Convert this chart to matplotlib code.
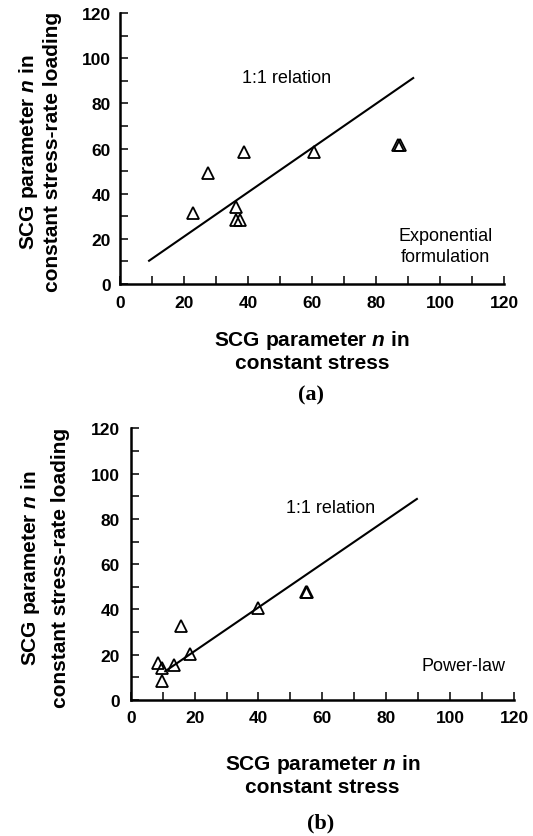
import numpy as np
import matplotlib
matplotlib.use("Agg")
import matplotlib.pyplot as plt

plt.rcParams['font.family'] = ['Liberation Sans', 'DejaVu Sans']
plt.rcParams['mathtext.fontset'] = 'custom'
plt.rcParams['mathtext.it'] = 'Liberation Sans:italic:bold'

# (a) exponential formulation
exp_const_stress = [22.8, 27.3, 38.6, 36.1, 36.1, 37.4, 60.7, 87.0, 87.6]
exp_stress_rate = [31.3, 49.3, 58.4, 34.2, 28.3, 28.3, 58.3, 61.5, 61.5]
exp_line_x = [9.0, 91.6]
exp_line_y = [10.3, 91.2]

# (b) power-law
pow_const_stress = [8.5, 9.9, 9.7, 13.7, 18.6, 15.8, 40.0, 54.8, 55.3]
pow_stress_rate = [16.5, 14.3, 8.4, 15.3, 20.5, 32.5, 40.6, 47.7, 47.7]
pow_line_x = [10.8, 89.6]
pow_line_y = [12.7, 88.8]

ticks = np.arange(0, 121, 10)
tick_labels = [str(t) if t % 20 == 0 else "" for t in ticks]

W, H = 533, 837
fig = plt.figure(figsize=(W / 100, H / 100), dpi=100)


def px_axes(left, top, right, bottom):
    return fig.add_axes([left / W, 1 - bottom / H, (right - left) / W, (bottom - top) / H])


def style(ax, xpad, ypad):
    ax.set_xlim(0, 120)
    ax.set_ylim(0, 120)
    for s in ['top', 'right']:
        ax.spines[s].set_visible(False)
    for s in ['left', 'bottom']:
        ax.spines[s].set_linewidth(1.8)
    ax.set_xticks(ticks)
    ax.set_yticks(ticks)
    ax.set_xticklabels(tick_labels)
    ax.set_yticklabels(tick_labels)
    ax.tick_params(direction='in', length=6, width=1.1, labelsize=12.5)
    ax.tick_params(axis='x', pad=xpad)
    ax.tick_params(axis='y', pad=ypad)
    for lab in ax.get_xticklabels() + ax.get_yticklabels():
        lab.set_fontweight('bold')
    ax.set_facecolor('none')


ylabel = "SCG parameter $n$ in\nconstant stress-rate loading"
xlabel = "SCG parameter $n$ in\nconstant stress"

# panel (a)
ax1 = px_axes(120.3, 14, 504, 285)
style(ax1, 8, 7)
ax1.plot(exp_line_x, exp_line_y, color='black', lw=1.5)
ax1.plot(exp_const_stress, exp_stress_rate, linestyle='none', marker='^', ms=8,
         mfc='none', mec='black', mew=1.3)
ax1.text(52, 91.5, "1:1 relation", fontsize=13, ha='center', va='center')
ax1.text(101.6, 17, "Exponential\nformulation", fontsize=13, ha='center', va='center',
         linespacing=1.3)
ax1.text(-0.211, 0.49, ylabel, transform=ax1.transAxes, rotation=90, ha='center',
         va='center', fontsize=15, fontweight='bold', linespacing=1.23)
ax1.text(0.5, -0.245, xlabel, transform=ax1.transAxes, ha='center', va='center',
         fontsize=15, fontweight='bold', linespacing=1.13)

# panel (b)
ax2 = px_axes(130.7, 429.3, 514, 701)
style(ax2, 7, 8)
ax2.plot(pow_line_x, pow_line_y, color='black', lw=1.5)
ax2.plot(pow_const_stress, pow_stress_rate, linestyle='none', marker='^', ms=8,
         mfc='none', mec='black', mew=1.3)
ax2.text(62.5, 85, "1:1 relation", fontsize=13, ha='center', va='center')
ax2.text(104.2, 15.2, "Power-law", fontsize=13, ha='center', va='center')
ax2.text(-0.224, 0.49, ylabel, transform=ax2.transAxes, rotation=90, ha='center',
         va='center', fontsize=15, fontweight='bold', linespacing=1.62)
ax2.text(0.5, -0.274, xlabel, transform=ax2.transAxes, ha='center', va='center',
         fontsize=15, fontweight='bold', linespacing=1.13)

fig.text(311 / W, 1 - 395 / H, "(a)", family='Liberation Serif', fontweight='bold',
         fontsize=16, ha='center', va='center')
fig.text(321 / W, 1 - 823 / H, "(b)", family='Liberation Serif', fontweight='bold',
         fontsize=16, ha='center', va='center')

fig.savefig("out.png", dpi=100, facecolor='white')
